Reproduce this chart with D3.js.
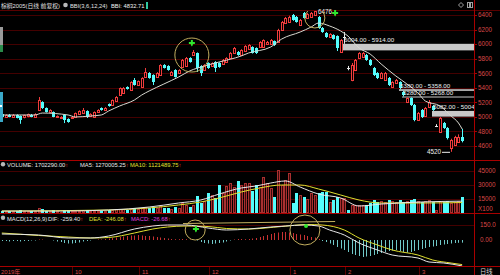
<!DOCTYPE html>
<html>
<head>
<meta charset="utf-8">
<script src="https://cdn.jsdelivr.net/npm/d3@7"></script>
<style>
  body { margin: 0; background: #000; }
  svg { display: block; }
  text { font-family: "Liberation Sans", "Noto Sans CJK SC", sans-serif; }
</style>
</head>
<body>
<div id="chart"></div>
<script>
// ---- data (price in points, volume in x100 lots) ----
const opens = [
  5040,4999,5030,5000,5026,5012,4990,5005,5030,5000,
  5095,5205,5122,5067,5067,4999,4985,5026,4971,4985,
  4999,5040,5053,5081,5012,4999,5067,5122,5095,5177,
  5163,5218,5301,5328,5411,5370,5507,5438,5411,5548,
  5603,5576,5548,5576,5713,5699,5576,5644,5603,5686,
  5699,5809,5850,5878,5699,5644,5740,5699,5754,5740,
  5727,5754,5809,5878,5892,5850,5905,5933,5960,5947,
  5960,5960,6001,6001,6043,6029,6194,6290,6304,6400,
  6373,6263,6427,6359,6373,6400,6373,6221,6153,6098,
  6125,6111,5892,6090,5670,5507,5644,5809,5823,5850,
  5782,5672,5603,5534,5507,5534,5411,5466,5479,5342,
  5205,5260,5163,4957,5095,5012,5136,5150,4875,4793,
  4916,4848,4572,4614,4655,4724];
const closes = [
  4999,5026,5005,5026,4990,4960,5020,5035,5000,5040,
  5232,5122,5067,5095,5000,5012,4999,4957,4930,4999,
  5053,5081,5095,4999,5040,5067,5095,5095,5122,5150,
  5232,5273,5397,5397,5383,5479,5438,5493,5534,5617,
  5534,5479,5603,5713,5672,5644,5617,5548,5644,5782,
  5809,5754,5892,5672,5603,5713,5672,5740,5672,5686,
  5782,5809,5878,5947,5850,5919,5974,5988,5878,5878,
  6029,6056,6029,6056,5988,6194,6304,6359,6373,6331,
  6304,6331,6359,6414,6427,6455,6221,6166,6098,6139,
  6070,5947,6056,6095,5665,5713,5782,5878,5878,5782,
  5713,5576,5534,5603,5603,5438,5479,5507,5397,5301,
  5260,5163,4957,5053,4999,5122,5205,5095,4880,4985,
  4848,4710,4682,4724,4724,4670];
const highs = [
  5050,5035,5040,5040,5035,5020,5030,5045,5040,5050,
  5273,5215,5130,5105,5075,5020,5010,5035,4980,5010,
  5060,5090,5122,5090,5050,5075,5105,5130,5135,5185,
  5240,5285,5405,5410,5420,5490,5534,5500,5545,5672,
  5615,5585,5615,5725,5725,5710,5630,5655,5655,5795,
  5823,5820,5919,5885,5710,5725,5750,5750,5765,5750,
  5795,5820,5890,5960,5905,5930,5985,6000,5970,5955,
  6040,6065,6043,6070,6050,6210,6318,6373,6390,6414,
  6386,6345,6441,6427,6441,6476,6386,6235,6165,6150,
  6135,6120,6070,6166,5700,5740,5795,5890,5892,5865,
  5795,5686,5615,5615,5617,5548,5490,5521,5490,5358,
  5268,5268,5177,5067,5108,5136,5232,5163,4900,4999,
  4930,4860,4700,4740,4760,4835];
const lows = [
  4990,4990,4995,4990,4980,4905,4980,4995,4995,4990,
  5080,5110,5060,5055,4995,4990,4975,4915,4920,4975,
  4990,5030,5045,4985,5005,4990,5060,5085,5090,5140,
  5155,5210,5290,5320,5375,5360,5430,5430,5400,5540,
  5525,5438,5540,5570,5665,5635,5565,5540,5595,5672,
  5690,5745,5840,5617,5562,5635,5660,5690,5617,5675,
  5720,5745,5800,5870,5840,5840,5895,5925,5870,5865,
  5950,5950,5990,5990,5975,6020,6180,6280,6290,6320,
  6295,6250,6350,6350,6365,6390,6210,6155,6085,6090,
  6060,5905,5880,6004,5640,5490,5630,5795,5810,5770,
  5700,5562,5520,5520,5495,5424,5400,5455,5380,5280,
  5190,5150,4940,4945,4985,5000,5122,5082,4860,4780,
  4835,4690,4520,4600,4645,4650];
const volumes = [
  2000,2500,1800,2200,2600,3500,2000,2400,1900,2300,
  5500,4000,2500,2000,2800,1800,1600,3200,2900,1700,
  2400,2200,3000,3300,1800,2600,2400,2000,2200,2700,
  3500,3800,4500,3900,3000,4800,5200,4400,5600,6200,
  5800,6400,5000,7500,5600,5400,4800,6000,5200,10700,
  8500,6400,8600,18200,10700,12800,21400,19300,16000,30000,
  21400,28900,32100,27800,34300,30000,32100,32100,23600,30000,
  27800,38600,32100,26800,17100,46000,30000,35300,42800,10700,
  21400,19300,17100,15000,21400,19300,21400,22500,22500,11800,
  13900,17100,16100,16100,3200,8600,8600,8200,8600,8600,
  10700,13900,11800,12800,11800,13900,12800,11800,13900,11800,
  12800,13900,15000,12800,11800,12800,13900,11800,3200,12800,
  11800,12800,10700,11800,12800,17023];
const macdHist = [
  -10,-10,-15,-10,-10,-15,-10,-10,-5,-5,
  5,5,0,0,-5,
  -15,-20,-30,-35,-35,-30,-25,-15,
  -10,-5,0,5,5,10,
  15,20,25,30,35,40,45,45,50,45,40,40,35,30,25,20,15,10,
  8,8,10,8,5,0,-5,
  -20,-30,-35,-40,-35,-30,-25,-15,-5,
  5,10,10,8,10,
  15,20,30,40,50,60,70,75,80,80,75,70,60,55,50,40,30,25,10,
  -10,-20,-35,-50,-70,-85,-100,-120,-140,-150,-160,-170,-165,-160,-150,
  -140,-130,-120,-110,-105,-100,-110,-120,-125,-120,-110,-100,-90,-80,-70,
  -65,-60,-50,-45,-40,-35,-30,-28,-26.68];

// indicator lines, read as (candle index, value) points
const bbiIdx = [0,9,11,18,20,24,27,29,32,36,38,40,44,48,51,55,59,65,67,73,76,81,84,86,89,92,94,97,100,103,107,110,113,115,119,122,124,125];
const bbiVal = [5026,5026,5053,5026,4999,5012,5026,5081,5150,5232,5301,5356,5452,5548,5631,5699,5754,5837,5878,5960,6070,6166,6235,6290,6249,6180,6111,5947,5864,5727,5562,5452,5328,5218,5150,5012,4916,4833];
const ma5Idx = [0,16,29,40,48,54,59,65,69,73,77,81,86,92,97,103,114,125];
const ma5Val = [2100,2100,3200,6400,10700,13900,20300,26800,28900,32100,34300,27800,20300,16100,7500,9600,11800,12700];
const ma10Idx = [0,29,40,48,54,59,65,70,76,81,86,92,97,103,114,125];
const ma10Val = [2100,3200,5400,8600,11800,16100,22500,26800,30000,30000,25700,19300,13900,10700,10700,11215];
const difIdx = [0,10,18,24,29,36,41,45,50,56,61,67,73,77,82,86,89,93,97,102,106,113,116,120,125];
const difVal = [60,50,20,20,40,110,140,150,150,120,100,110,130,140,150,140,100,50,-30,-100,-150,-180,-220,-230,-259.4];
const deaIdx = [0,10,18,24,29,36,41,45,50,56,61,67,76,83,87,93,97,102,106,113,117,122,125];
const deaVal = [70,45,30,20,25,70,110,130,140,135,115,110,135,155,150,100,20,-50,-100,-150,-200,-230,-246.08];

const priceTicks = [6400,6200,6000,5800,5600,5400,5200,5000,4800,4600];
const volTicks = [45000,30000,15000];
const macdTicks = [150,0];
const macdTickText = ["150.0","0.00"];
const monthIdx = [0,20,38,57,79,94,114];
const monthText = ["2019年","10","11","12","1","2","3"];
// price gaps marked on the chart: [start index, upper, lower, label]
const gapStart = [93,108,109,117];
const gapHi = [6004,5380,5280,5082];
const gapLo = [5914,5358,5268,5004];
const gapText = ["6004.00 - 5914.00","5380.00 - 5358.00","5280.00 - 5268.00","5082.00 - 5004"];

const N = closes.length;
const W = 500, H = 275, axisX = 474;
const RED = "#f03c3c", CYAN = "#54fcfc", GRID = "#440000", SEP = "#a80000";
const LABEL = "#d84848", ANNO = "#c2ae5e", GREEN = "#2ee62e";

const svg = d3.select("#chart").append("svg")
  .attr("width", W).attr("height", H)
  .style("background", "#000");

// scales
const xb = d3.scaleBand().domain(d3.range(N)).range([0, 464]);
const cx = i => Math.round(xb(i) + xb.bandwidth() / 2);
const xf = t => xb.step() * (t + 0.5);
const yP = d3.scaleLinear().domain([4600, 6400]).range([146, 15]);
const yV = d3.scaleLinear().domain([0, 45000]).range([213, 171]);
const yM = d3.scaleLinear().domain([0, 150]).range([240, 225]);

// clip paths for the three panels
const defs = svg.append("defs");
[["clipMain", 11, 160], ["clipVol", 161, 213], ["clipMacd", 214, 266]].forEach(c => {
  defs.append("clipPath").attr("id", c[0]).append("rect")
    .attr("x", 0).attr("y", c[1]).attr("width", axisX).attr("height", c[2] - c[1]);
});

// grid lines
const grid = svg.append("g").attr("stroke", GRID).attr("stroke-width", 1);
priceTicks.forEach(p => grid.append("line").attr("x1", 0).attr("x2", axisX)
  .attr("y1", Math.round(yP(p)) + 0.5).attr("y2", Math.round(yP(p)) + 0.5));
volTicks.forEach(v => grid.append("line").attr("x1", 0).attr("x2", axisX)
  .attr("y1", Math.round(yV(v)) + 0.5).attr("y2", Math.round(yV(v)) + 0.5));
grid.append("line").attr("x1", 0).attr("x2", axisX)
  .attr("y1", Math.round(yM(150)) + 0.5).attr("y2", Math.round(yM(150)) + 0.5);

// panel separators and right axis
const sep = svg.append("g").attr("stroke", SEP).attr("stroke-width", 1);
sep.append("line").attr("x1", 0).attr("x2", W).attr("y1", 10.5).attr("y2", 10.5).attr("stroke", "#5a0000");
[160.5, 213.5, 266.5].forEach(y => sep.append("line").attr("x1", 0).attr("x2", W).attr("y1", y).attr("y2", y));
sep.append("line").attr("x1", axisX + 0.5).attr("x2", axisX + 0.5).attr("y1", 0).attr("y2", H);

// gap bands
const gaps = svg.append("g").attr("clip-path", "url(#clipMain)");
gapStart.forEach((s, k) => {
  const x0 = cx(s) - 1;
  const y0 = yP(gapHi[k]), y1 = yP(gapLo[k]);
  gaps.append("rect").attr("x", x0).attr("y", y0).attr("width", axisX - x0)
    .attr("height", Math.max(1, y1 - y0)).attr("fill", "#c8c8c8");
});

// candles
const cg = svg.append("g").attr("clip-path", "url(#clipMain)");
d3.range(N).forEach(i => {
  const o = opens[i], c = closes[i], x = cx(i);
  const doji = Math.abs(c - o) <= 8;
  const up = c > o;
  const col = doji ? "#e8e8e8" : (up ? RED : CYAN);
  cg.append("line").attr("x1", x + 0.5).attr("x2", x + 0.5)
    .attr("y1", yP(highs[i])).attr("y2", yP(lows[i])).attr("stroke", col);
  if (doji) {
    cg.append("line").attr("x1", x - 1).attr("x2", x + 2)
      .attr("y1", Math.round(yP(c)) + 0.5).attr("y2", Math.round(yP(c)) + 0.5).attr("stroke", col);
  } else if (up) {
    cg.append("rect").attr("x", x - 0.5).attr("y", Math.round(yP(c)) + 0.5)
      .attr("width", 2).attr("height", Math.max(1, Math.round(yP(o) - yP(c))))
      .attr("fill", "#000").attr("stroke", RED);
  } else {
    cg.append("rect").attr("x", x - 1).attr("y", Math.round(yP(o)))
      .attr("width", 3).attr("height", Math.max(1, Math.round(yP(c) - yP(o))))
      .attr("fill", CYAN);
  }
});

// BBI line
const line = (idx, vals, ys) => d3.line().x((d, k) => xf(idx[k])).y(d => ys(d)).curve(d3.curveMonotoneX)(vals);
svg.append("path").attr("clip-path", "url(#clipMain)").attr("d", line(bbiIdx, bbiVal, yP))
  .attr("fill", "none").attr("stroke", "#d8d8d0").attr("stroke-width", 1);

// gap labels
gapStart.forEach((s, k) => {
  svg.append("text").attr("x", cx(s)).attr("y", yP(gapHi[k]) - 1.5)
    .attr("font-size", 6.2).attr("fill", "#f0f0f0").attr("clip-path", "url(#clipMain)")
    .text(gapText[k]);
});

// high / low marks
svg.append("text").attr("x", cx(85) + 3).attr("y", yP(6476) + 5).attr("font-size", 6.3)
  .attr("fill", "#f0f0f0").text("6476");
svg.append("text").attr("x", cx(122) - 24).attr("y", yP(4520) + 2.5).attr("font-size", 6.3)
  .attr("fill", "#f0f0f0").text("4520");
svg.append("line").attr("x1", cx(122) - 9).attr("x2", cx(122) - 1)
  .attr("y1", yP(4520) + 0.5).attr("y2", yP(4520) + 0.5).attr("stroke", "#f0f0f0");

// volume bars
const vg = svg.append("g").attr("clip-path", "url(#clipVol)");
d3.range(N).forEach(i => {
  const x = cx(i), up = closes[i] > opens[i];
  const top = Math.round(yV(volumes[i])), base = 213;
  if (up) {
    vg.append("rect").attr("x", x - 0.5).attr("y", top + 0.5)
      .attr("width", 2).attr("height", Math.max(1, base - top - 1))
      .attr("fill", "#3a0a0a").attr("stroke", "#a83030");
  } else {
    vg.append("rect").attr("x", x - 1).attr("y", top)
      .attr("width", 3).attr("height", Math.max(1, base - top)).attr("fill", CYAN);
  }
});
svg.append("path").attr("clip-path", "url(#clipVol)").attr("d", line(ma10Idx, ma10Val, yV))
  .attr("fill", "none").attr("stroke", "#e0e030");
svg.append("path").attr("clip-path", "url(#clipVol)").attr("d", line(ma5Idx, ma5Val, yV))
  .attr("fill", "none").attr("stroke", "#e8e8e8");

// MACD
const mg = svg.append("g").attr("clip-path", "url(#clipMacd)");
macdHist.forEach((v, i) => {
  if (v === 0) return;
  mg.append("line").attr("x1", cx(i) + 0.5).attr("x2", cx(i) + 0.5)
    .attr("y1", yM(0)).attr("y2", yM(v)).attr("stroke", v > 0 ? "#c83232" : "#70c8c8");
});
mg.append("path").attr("d", line(deaIdx, deaVal, yM)).attr("fill", "none").attr("stroke", "#e0e030");
mg.append("path").attr("d", line(difIdx, difVal, yM)).attr("fill", "none").attr("stroke", "#e8e8e8");

// hand drawn marks on the chart
const anno = svg.append("g").attr("fill", "none").attr("stroke", ANNO).attr("stroke-width", 1);
anno.append("circle").attr("cx", xf(51.6)).attr("cy", yP(5850)).attr("r", 17).attr("clip-path", "url(#clipMain)");
anno.append("circle").attr("cx", xf(85)).attr("cy", yP(6359)).attr("r", 10).attr("clip-path", "url(#clipMain)");
anno.append("circle").attr("cx", xf(52.5)).attr("cy", yM(100)).attr("r", 10).attr("clip-path", "url(#clipMacd)");
anno.append("circle").attr("cx", xf(82.3)).attr("cy", yM(100)).attr("r", 15).attr("clip-path", "url(#clipMacd)");
anno.append("line").attr("x1", xf(49.2)).attr("y1", yM(165)).attr("x2", xf(90.5)).attr("y2", yM(185))
  .attr("stroke-width", 1.2);

const plusArrow = "M-1,-3h2v2h2v2h-2v1l-1,1.5l-1,-1.5v-1h-2v-2h2z";
[[51.6, yP(6015)], [90.5, yP(6427)], [52.7, yM(110)]].forEach(p => {
  svg.append("path").attr("d", plusArrow).attr("fill", GREEN)
    .attr("transform", `translate(${xf(p[0])},${p[1]})`);
});
svg.append("circle").attr("cx", xf(82.6)).attr("cy", yM(140)).attr("r", 2).attr("fill", GREEN);

// right axis labels
const lab = svg.append("g").attr("font-size", 6.3).attr("fill", LABEL);
priceTicks.forEach(p => {
  lab.append("text").attr("x", 478).attr("y", yP(p) + 2.3).text(p);
  svg.append("line").attr("x1", axisX).attr("x2", axisX + 3)
    .attr("y1", Math.round(yP(p)) + 0.5).attr("y2", Math.round(yP(p)) + 0.5).attr("stroke", SEP);
});
volTicks.forEach(v => lab.append("text").attr("x", 478).attr("y", yV(v) + 2.3).text(v));
lab.append("text").attr("x", 478).attr("y", 211).text("X100");
macdTicks.forEach((v, k) => lab.append("text").attr("x", 480).attr("y", yM(v) + 2.3).text(macdTickText[k]));

// date axis
monthIdx.forEach((m, k) => {
  const x = k === 0 ? 1 : cx(m);
  lab.append("text").attr("x", x).attr("y", 273.5).attr("font-size", 6).text(monthText[k]);
  if (k > 0) svg.append("line").attr("x1", x - 2.5).attr("x2", x - 2.5).attr("y1", 267).attr("y2", 275)
    .attr("stroke", "#5a0000");
});
svg.append("text").attr("x", 480).attr("y", 273.5).attr("font-size", 6.3).attr("fill", "#d8d8d8").text("日线");

// header lines
const hdr = svg.append("g").attr("font-size", 5.8);
hdr.append("text").attr("x", 1).attr("y", 7.5).attr("fill", "#e0e0e0").text("棕榈2005(日线 前复权)");
hdr.append("circle").attr("cx", 65.5).attr("cy", 5).attr("r", 2.3).attr("fill", "#b8b8b8");
hdr.append("text").attr("x", 70).attr("y", 7.5).attr("fill", "#e0e0e0").text("BBI(3,6,12,24)");
hdr.append("text").attr("x", 111).attr("y", 7.5).attr("fill", "#f0f0f0").text("BBI: 4832.71");
hdr.append("rect").attr("x", 146).attr("y", 2).attr("width", 2).attr("height", 7).attr("fill", "#30c8a0");

function header(y, items) {
  items.forEach(it => {
    const t = hdr.append("text").attr("x", it[0]).attr("y", y).attr("fill", it[2]).text(it[1]);
    t.append("tspan").attr("fill", RED).text("↑");
  });
}
hdr.append("circle").attr("cx", 3).attr("cy", 164.3).attr("r", 2.2).attr("fill", "#b8b8b8");
header(167, [[7, "VOLUME: 1702290.00", "#e8e8e8"], [80, "MA5: 1270005.25", "#e8e8e8"], [130, "MA10: 1121489.75", "#e0e030"]]);
hdr.append("circle").attr("cx", 3).attr("cy", 217.8).attr("r", 2.2).attr("fill", "#b8b8b8");
hdr.append("text").attr("x", 7).attr("y", 220.5).attr("fill", "#e8e8e8").text("MACD(12,26,9)");
header(220.5, [[48, "DIF: -259.40", "#e8e8e8"], [89, "DEA: -246.08", "#e0e030"], [131, "MACD: -26.68", "#e040e0"]]);

// small widgets on the chart edges
svg.append("rect").attr("x", 0).attr("y", 27).attr("width", 3).attr("height", 18).attr("fill", "#9a9a9a");
svg.append("rect").attr("x", 0).attr("y", 45).attr("width", 3).attr("height", 7).attr("fill", "#2a8a4a");
svg.append("rect").attr("x", 0).attr("y", 92).attr("width", 3).attr("height", 30).attr("fill", "#3aa8c8");
svg.append("rect").attr("x", 0).attr("y", 105).attr("width", 2).attr("height", 2).attr("fill", "#fff");
svg.append("path").attr("d", "M461,2.5l2.5,2.5l-2.5,2.5l-2.5,-2.5z").attr("fill", "none").attr("stroke", "#a0a0a0");
svg.append("rect").attr("x", 467.5).attr("y", 2.5).attr("width", 5).attr("height", 5).attr("fill", "none").attr("stroke", "#a0a0a0");
svg.append("rect").attr("x", 469).attr("y", 3).attr("width", 2).attr("height", 4).attr("fill", "#a0a0a0");
</script>
</body>
</html>
